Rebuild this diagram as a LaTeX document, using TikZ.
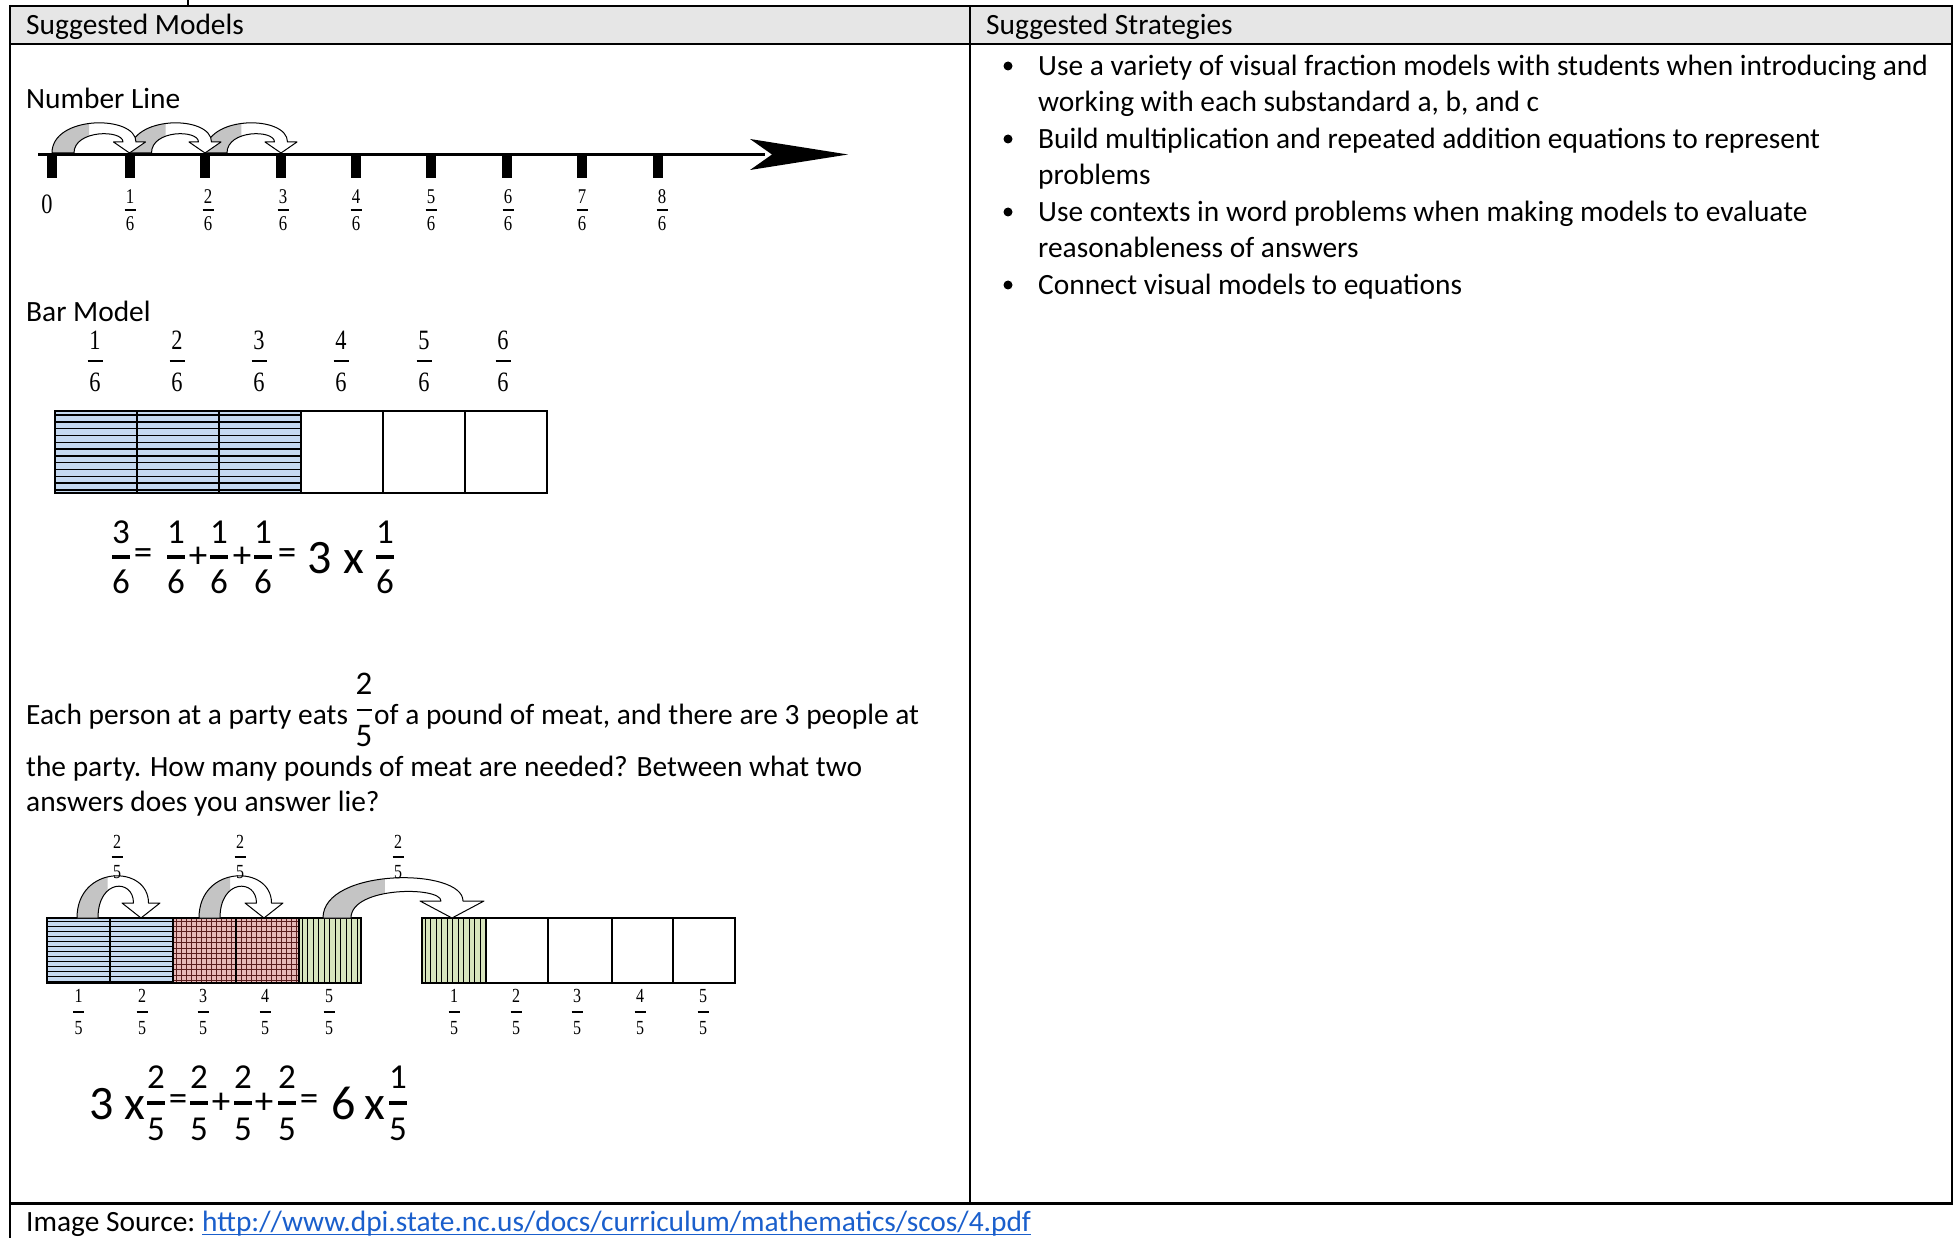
\documentclass[tikz,border=0pt]{standalone}
\usepackage{fontspec}
\setmainfont{Carlito}
\newfontfamily\tnr{Liberation Serif}
\usetikzlibrary{calc}
\definecolor{hdr}{HTML}{E6E6E6}
\definecolor{barblue}{HTML}{C5D9F1}
\definecolor{barred}{HTML}{E6B9B8}
\definecolor{gridred}{HTML}{5A1E1E}
\definecolor{bargreen}{HTML}{D7E4BD}
\definecolor{arrowgrey}{HTML}{C4C4C4}
\definecolor{linkblue}{HTML}{1A5FCC}
\newcommand\sx[1]{\scalebox{0.8}[1]{#1}}
\newcommand\Fr[9]{%
  \node[inner sep=0pt,font=#7] (#1n) at (#2,#3-#4) {#5};
  \node[inner sep=0pt,font=#7] (#1d) at (#2,#3+#4) {#6};
  \draw[line width=#9] (#2-#8,#3) -- (#2+#8,#3);}
\newcommand\ribbon[8]{%
  \pgfmathsetmacro\rA{#1}\pgfmathsetmacro\rT{#2}\pgfmathsetmacro\rB{#3}%
  \pgfmathsetmacro\rY{#4}\pgfmathsetmacro\rTop{#5}\pgfmathsetmacro\rHH{#6}%
  \pgfmathsetmacro\rHW{#7}\pgfmathsetmacro\rTT{#8}%
  \pgfmathsetmacro\rYh{\rY-\rHH}%
  \pgfmathsetmacro\rBo{\rB+\rTT/2}%
  \pgfmathsetmacro\rBi{\rB-\rTT/2}%
  \pgfmathsetmacro\rAi{\rA+\rT}%
  \pgfmathsetmacro\rCo{(\rTop-0.125*(\rY+\rYh))/0.75}%
  \pgfmathsetmacro\rCi{(\rTop+0.5*\rT-0.125*(\rY+\rYh))/0.75}%
  \pgfmathsetmacro\rMid{\rA+0.48*(\rB-\rA)}%
  \fill[white] (\rA,\rY) .. controls (\rA,\rCo) and (\rBo,\rCo) .. (\rBo,\rYh) -- (\rB+\rHW,\rYh) -- (\rB,\rY) -- (\rB-\rHW,\rYh) -- (\rBi,\rYh) .. controls (\rBi,\rCi) and (\rAi,\rCi) .. (\rAi,\rY) -- cycle;
  \begin{scope}
    \clip (\rA-3,\rTop-5) rectangle (\rMid,\rY+1);
    \fill[arrowgrey] (\rA,\rY) .. controls (\rA,\rCo) and (\rBo,\rCo) .. (\rBo,\rYh) -- (\rB+\rHW,\rYh) -- (\rB,\rY) -- (\rB-\rHW,\rYh) -- (\rBi,\rYh) .. controls (\rBi,\rCi) and (\rAi,\rCi) .. (\rAi,\rY) -- cycle;
  \end{scope}
  \draw[line width=1pt,line join=round] (\rA,\rY) .. controls (\rA,\rCo) and (\rBo,\rCo) .. (\rBo,\rYh) -- (\rB+\rHW,\rYh) -- (\rB,\rY) -- (\rB-\rHW,\rYh) -- (\rBi,\rYh) .. controls (\rBi,\rCi) and (\rAi,\rCi) .. (\rAi,\rY) -- cycle;
}
\begin{document}
\begin{tikzpicture}[x=1pt,y=-1pt,
  txt/.style={inner sep=0pt,anchor=base west,font=\fontsize{29.4}{35}\selectfont},
  eqsym/.style={inner sep=0pt,font=\fontsize{37}{37}\selectfont},
  eqbig/.style={inner sep=0pt,anchor=base,font=\fontsize{48}{48}\selectfont}]
\useasboundingbox (0,0) rectangle (1954,1238);
\fill[white] (0,0) rectangle (1954,1238);
% table
\fill[hdr] (10,6) rectangle (1952,44);
\draw[line width=2pt] (10,6) -- (1952,6);
\draw[line width=2pt] (10,44) -- (1952,44);
\draw[line width=2pt] (10,5) -- (10,1238);
\draw[line width=2pt] (1952,5) -- (1952,1203);
\draw[line width=1.5pt] (970,6) -- (970,1203);
\draw[line width=3pt] (9,1203) -- (1953,1203);
\draw[line width=1.5pt] (188,0) -- (188,5);
% headers
\node[txt] (hm) at (26,35) {Suggested Models};
\node[txt] (hs) at (986,35) {Suggested Strategies};
% bullets
\foreach \yy in {76,149,222,295}
  \fill (1008,\yy-10) circle (4.5);
\node[txt] (s1) at (1038,76) {Use a variety of visual fraction models with students when introducing and};
\node[txt] (s2) at (1038,112) {working with each substandard a, b, and c};
\node[txt] (s3) at (1038,149) {Build multiplication and repeated addition equations to represent};
\node[txt] (s4) at (1038,185) {problems};
\node[txt] (s5) at (1038,222) {Use contexts in word problems when making models to evaluate};
\node[txt] (s6) at (1038,258) {reasonableness of answers};
\node[txt] (s7) at (1038,295) {Connect visual models to equations};
% number line
\node[txt] (nl) at (26,109) {Number Line};
\draw[line width=3.5pt] (38,154.5) -- (765,154.5);
\fill (848,154.5) -- (750,139) -- (772,154.5) -- (750,170) -- cycle;
\foreach \xx in {52,129.5,205,281,356,431,507,582,658}
  \fill (\xx-5,153) rectangle (\xx+5,178);
\ribbon{205}{22}{281}{153}{123}{11}{16}{13}
\ribbon{129.5}{22}{205}{153}{123}{11}{16}{13}
\ribbon{52}{22}{129.5}{153}{123}{11}{16}{13}
\node[inner sep=0pt,font=\tnr\fontsize{28}{28}\selectfont] (z0) at (47,204) {\sx{0}};
\foreach \xx/\k in {130/1,208/2,283/3,356/4,431/5,508/6,582/7,662/8}
  {\Fr{nf\k}{\xx}{210}{13.5}{\sx{\k}}{\sx{6}}{\tnr\fontsize{21}{21}\selectfont}{5.5}{1.3pt}}
% bar model
\node[txt] (bm) at (26,322) {Bar Model};
\foreach \xx/\k in {95/1,177/2,259/3,341/4,424/5,503/6}
  {\Fr{bf\k}{\xx}{361}{21}{\sx{\k}}{\sx{6}}{\tnr\fontsize{28}{28}\selectfont}{7.5}{1.6pt}}
\fill[barblue] (55,411) rectangle (300,493);
\foreach \yy in {415,421.8,...,490}
  \draw[line width=1.4pt] (55,\yy) -- (300,\yy);
\foreach \xx in {55,137,219,301,383,465}
  \draw[line width=1.8pt] (\xx,411) rectangle (\xx+82,493);
\draw[line width=2.5pt] (55,493) -- (300,493);
% equation 1
\Fr{ea}{121}{557}{25}{3}{6}{\fontsize{35}{35}\selectfont}{9}{3.2pt}
\Fr{eb}{176}{557}{25}{1}{6}{\fontsize{35}{35}\selectfont}{9}{3.2pt}
\Fr{ec}{219}{557}{25}{1}{6}{\fontsize{35}{35}\selectfont}{9}{3.2pt}
\Fr{ed}{263}{557}{25}{1}{6}{\fontsize{35}{35}\selectfont}{9}{3.2pt}
\Fr{ee}{385}{557}{25}{1}{6}{\fontsize{35}{35}\selectfont}{9}{3.2pt}
\node[eqsym] (q1) at (143,557) {=};
\node[eqsym] (q2) at (198,557) {+};
\node[eqsym] (q3) at (242,557) {+};
\node[eqsym] (q4) at (287,557) {=};
\node[eqbig] (q5) at (320,573) {3};
\node[eqbig] (q6) at (354,573) {x};
% word problem
\node[txt] (p1) at (26,724) {Each person at a party eats};
\Fr{wp}{364}{710}{26}{2}{5}{\fontsize{33}{33}\selectfont}{7.5}{2.6pt}
\node[txt] (p1b) at (374,724) {of a pound of meat, and there are 3 people at};
\node[txt] (p2) at (26,776) {the party. How many pounds of meat are needed? Between what two};
\node[txt] (p3) at (26,811) {answers does you answer lie?};
% second bar model
\fill[barblue] (47,918) rectangle (173,983);
\foreach \yy in {921,926,...,981}
  \draw[line width=1pt] (47,\yy) -- (173,\yy);
\fill[barred] (173,918) rectangle (299,983);
\foreach \yy in {921,926.4,...,981}
  \draw[gridred,line width=0.9pt] (173,\yy) -- (299,\yy);
\foreach \xx in {176,181,...,296}
  \draw[gridred,line width=0.9pt] (\xx,918) -- (\xx,983);
\fill[bargreen] (299,918) rectangle (361,983);
\foreach \xx in {302,307.5,...,358}
  \draw[line width=1pt] (\xx,918) -- (\xx,983);
\fill[bargreen] (422,918) rectangle (486,983);
\foreach \xx in {425,430.5,...,483}
  \draw[line width=1pt] (\xx,918) -- (\xx,983);
\foreach \xa/\xb in {47/110,110/173,173/236,236/299,299/361,422/486,486/548,548/612,612/673,673/735}
  \draw[line width=1.5pt] (\xa,918) rectangle (\xb,983);
\draw[line width=2.5pt] (173,918) -- (173,983);
\ribbon{323}{28}{452}{918}{878}{17}{32}{22}
\ribbon{199}{21}{264}{918}{876}{15}{19}{15}
\ribbon{77}{21}{141}{918}{876}{15}{19}{15}
\foreach \xx/\k in {117/1,240/2,398/3}
  {\Fr{tf\k}{\xx}{857}{15}{\sx{2}}{\sx{5}}{\tnr\fontsize{20}{20}\selectfont}{5.5}{1.2pt}}
\foreach \xx/\k in {78.5/1,142/2,203/3,265/4,329/5}
  {\Fr{lf\k}{\xx}{1012}{16}{\sx{\k}}{\sx{5}}{\tnr\fontsize{20}{20}\selectfont}{5.5}{1.2pt}}
\foreach \xx/\k in {454/1,516/2,577/3,640/4,703/5}
  {\Fr{rf\k}{\xx}{1012}{16}{\sx{\k}}{\sx{5}}{\tnr\fontsize{20}{20}\selectfont}{5.5}{1.2pt}}
% equation 2
\node[eqbig] (r1) at (102,1119) {3};
\node[eqbig] (r2) at (135,1119) {x};
\Fr{ga}{156}{1103}{26}{2}{5}{\fontsize{35}{35}\selectfont}{9}{3.2pt}
\Fr{gb}{199}{1103}{26}{2}{5}{\fontsize{35}{35}\selectfont}{9}{3.2pt}
\Fr{gc}{243}{1103}{26}{2}{5}{\fontsize{35}{35}\selectfont}{9}{3.2pt}
\Fr{gd}{287}{1103}{26}{2}{5}{\fontsize{35}{35}\selectfont}{9}{3.2pt}
\Fr{ge}{398}{1103}{26}{1}{5}{\fontsize{35}{35}\selectfont}{9}{3.2pt}
\node[eqsym] (r3) at (178,1103) {=};
\node[eqsym] (r4) at (221,1103) {+};
\node[eqsym] (r5) at (264,1103) {+};
\node[eqsym] (r6) at (309,1103) {=};
\node[eqbig] (r7) at (344,1119) {6};
\node[eqbig] (r8) at (375,1119) {x};
% source
\node[txt] (src) at (26,1231) {Image Source:};
\node[txt,text=linkblue] (lnk) at (202,1231) {http://www.dpi.state.nc.us/docs/curriculum/mathematics/scos/4.pdf};
\draw[linkblue,line width=1.5pt] ([yshift=-3.5pt]lnk.base west) -- ([yshift=-3.5pt]lnk.base east);
\end{tikzpicture}
\end{document}
